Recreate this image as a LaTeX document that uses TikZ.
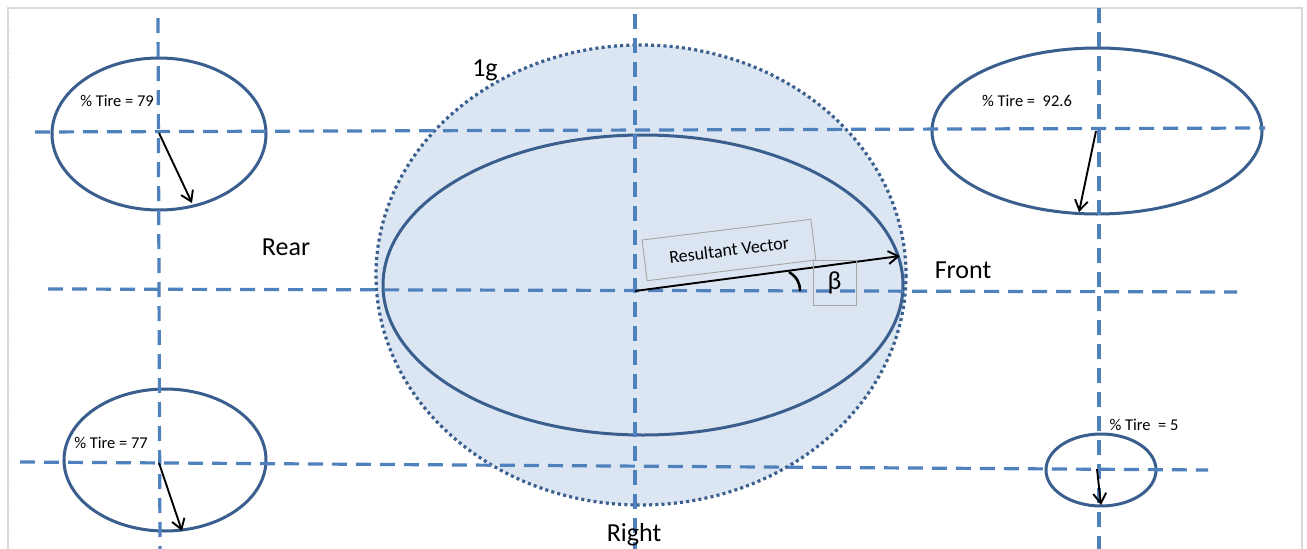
\documentclass[tikz,border=0pt]{standalone}
\usepackage{fontspec}
\setmainfont{Carlito}
\usetikzlibrary{arrows.meta}
\definecolor{dashblue}{HTML}{4F81BD}
\definecolor{rimblue}{HTML}{3A5F8F}
\definecolor{fillblue}{HTML}{DCE6F2}
\definecolor{framegray}{HTML}{D9D9D9}
\tikzset{
  axis/.style={dashblue, line width=3.2pt, dash pattern=on 15pt off 9pt},
  rim/.style={rimblue, line width=3pt},
  gcircle/.style={rimblue, line width=3.2pt, dash pattern=on 3pt off 3.2pt, fill=fillblue},
  vec/.style={black, line width=1.9pt, -{Straight Barb[length=10pt,width=13pt,line width=1.9pt]}},
  tirelbl/.style={font=\fontsize{16.5}{18}\selectfont, inner sep=0pt},
  biglbl/.style={font=\fontsize{26}{28}\selectfont, inner sep=0pt},
  graybox/.style={draw=gray!70, line width=0.9pt},
}
\begin{document}
\begin{tikzpicture}[x=1pt,y=-1pt]
\useasboundingbox (0,0) rectangle (1307,549);
\clip (0,0) rectangle (1307,549);
\fill[white] (0,0) rectangle (1307,549);
% frame
\draw[framegray, line width=2.4pt] (8,549) -- (8,8) -- (1302,8) -- (1302,549);
\foreach \yy in {30,53,77,100,124,148,172,196,220,244,268,292,316,340,364,388,412,436,460,484,508,532}
  \draw[framegray!70, line width=0.6pt] (8,\yy) -- (11,\yy);
% 1g circle and inner ellipse
\draw[gcircle] (641,275) ellipse [x radius=265, y radius=230];
\draw[rim, fill=fillblue] (643,285) ellipse [x radius=260, y radius=150];
% tire ellipses
\draw[rim] (159,134) ellipse [x radius=107, y radius=76];
\draw[rim] (1097,131) ellipse [x radius=165, y radius=83];
\draw[rim] (165,460) ellipse [x radius=101, y radius=71];
\draw[rim] (1101,470) ellipse [x radius=55, y radius=36];
% dashed axes
\draw[axis] (158,18) -- (160,549);
\draw[axis] (635,14) -- (635,549);
\draw[axis] (1099,8) -- (1099,549);
\draw[axis] (35,132) -- (1265,128);
\draw[axis] (48,289) -- (1237,292);
\draw[axis] (20,462) -- (1208,470);
% coordinates
\coordinate (tlc) at (159,133);
\coordinate (tle) at (192,203);
\coordinate (trc) at (1096,131);
\coordinate (tre) at (1079,212);
\coordinate (blc) at (159,463);
\coordinate (ble) at (182,531);
\coordinate (brc) at (1097,469);
\coordinate (bre) at (1101,505);
\coordinate (o) at (635,291);
\coordinate (vend) at (900,256);
% tire arrows
\draw[vec] (tlc) -- (tle);
\draw[vec] (trc) -- (tre);
\draw[vec] (blc) -- (ble);
\draw[vec] (brc) -- (bre);
% resultant vector
\draw[vec] (o) -- (vend);
\draw[black, line width=2.6pt] (789,272) .. controls (797,277) and (800,283) .. (800,291);
% labels
\node[tirelbl] (l79) at (117,101) {\% Tire = 79};
\node[tirelbl] (l926) at (1027,101) {\% Tire =\ \ 92.6};
\node[tirelbl] (l77) at (111,443) {\% Tire = 77};
\node[tirelbl] (l5) at (1144,425) {\% Tire\ \ = 5};
\node[biglbl] (g1) at (485,70) {1g};
\node[biglbl] (rear) at (286,247) {Rear};
\node[biglbl] (front) at (963,270) {Front};
\node[biglbl, anchor=base] (right) at (634,541) {Right};
\node[graybox, rotate=7, minimum width=170pt, minimum height=41pt, font=\fontsize{18}{20}\selectfont, inner sep=0pt] (rv) at (729,250) {Resultant Vector};
\node[graybox, minimum width=43pt, minimum height=45pt, font=\fontsize{26}{28}\selectfont, inner sep=0pt] (beta) at (834.5,282.5) {β};
\end{tikzpicture}
\end{document}
